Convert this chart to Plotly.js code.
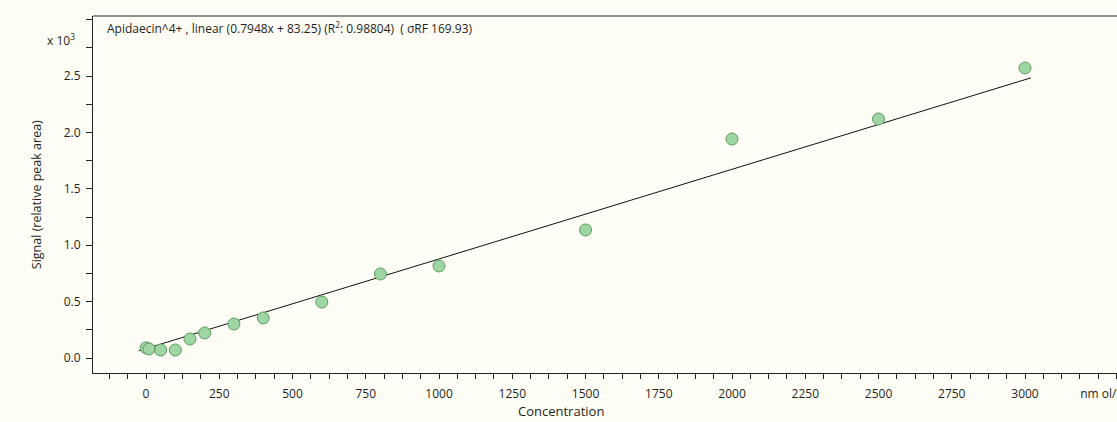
<!DOCTYPE html>
<html>
<head>
<meta charset="utf-8">
<script src="https://cdn.plot.ly/plotly-3.0.1.min.js"></script>
<style>html,body{margin:0;padding:0;background:#fefef6;}#chart{width:1117px;height:422px;}</style>
</head>
<body>
<div id="chart"></div>
<script>
// Data
const concentration = [0, 10, 50, 100, 150, 200, 300, 400, 600, 800, 1000, 1500, 2000, 2500, 3000];
const signal = [90, 80, 71, 71, 168, 222, 301, 355, 496, 745, 816, 1135, 1941, 2119, 2571];
const fitSlope = 0.7948;
const fitIntercept = 83.25;
const fitRangeX = [-25, 3020];
const xTickVals = [0, 250, 500, 750, 1000, 1250, 1500, 1750, 2000, 2250, 2500, 2750, 3000, 3250];
const xTickText = ['0', '250', '500', '750', '1000', '1250', '1500', '1750', '2000', '2250', '2500', '2750', '3000', 'nm ol/'];
const yTickVals = [0, 500, 1000, 1500, 2000, 2500, 3000];
const yTickText = ['0.0', '0.5', '1.0', '1.5', '2.0', '2.5', ' '];
const titleText = 'Apidaecin^4+ , linear (0.7948x + 83.25) (R<sup>2</sup>: 0.98804)  ( \u03c3RF 169.93)';

const fitY = fitRangeX.map(x => fitSlope * x + fitIntercept);
const font = "'Open Sans', 'DejaVu Sans', sans-serif";
const txt = '#1e1e1e';

const traces = [
  {x: fitRangeX, y: fitY, mode: 'lines', line: {color: '#111111', width: 1}, hoverinfo: 'skip', showlegend: false},
  {x: concentration, y: signal, mode: 'markers', showlegend: false,
   marker: {size: 12, color: '#9ed6a3', line: {color: '#5e9a63', width: 1}}}
];

const layout = {
  width: 1117, height: 422,
  margin: {l: 93, r: 0, t: 16, b: 49},
  paper_bgcolor: '#fefef6', plot_bgcolor: '#fefef6',
  font: {family: font, size: 12, color: txt},
  xaxis: {
    range: [-181, 3314], showgrid: false, zeroline: false,
    showline: true, linecolor: '#222222', linewidth: 1,
    ticks: 'outside', ticklen: 5, tickcolor: '#222222', tickwidth: 1,
    tickmode: 'array', tickvals: xTickVals, ticktext: xTickText,
    ticklabelstandoff: 5,
    tickfont: {family: font, size: 12, color: txt},
    minor: {dtick: 62.5, tick0: 0, ticks: 'outside', ticklen: 5, tickcolor: '#222222', showgrid: false}
  },
  yaxis: {
    range: [-133, 3032], showgrid: false, zeroline: false,
    showline: true, linecolor: '#222222', linewidth: 1,
    ticks: 'outside', ticklen: 6, tickcolor: '#222222', tickwidth: 1,
    tickmode: 'array', tickvals: yTickVals, ticktext: yTickText,
    ticklabelstandoff: 3,
    tickfont: {family: font, size: 12, color: txt},
    minor: {dtick: 250, tick0: 0, ticks: 'outside', ticklen: 6, tickcolor: '#222222', showgrid: false}
  },
  shapes: [
    {type: 'line', xref: 'paper', yref: 'paper', x0: 0, x1: 1, y0: 1, y1: 1, line: {color: '#222222', width: 1}}
  ],
  annotations: [
    {text: titleText, xref: 'paper', yref: 'paper', x: 0.0117, y: 0.966, xanchor: 'left', yanchor: 'middle',
     showarrow: false, font: {family: font, size: 12, color: txt}},
    {text: 'x 10<sup>3</sup>', xref: 'paper', yref: 'paper', x: -0.0155, y: 0.932, xanchor: 'right', yanchor: 'middle',
     showarrow: false, font: {family: font, size: 12, color: txt}},
    {text: 'Signal (relative peak area)', xref: 'paper', yref: 'paper', x: -0.055, y: 0.5, xanchor: 'center', yanchor: 'middle',
     textangle: -90, showarrow: false, font: {family: font, size: 12.5, color: txt}},
    {text: 'Concentration', xref: 'paper', yref: 'paper', x: 0.457, y: -0.106, xanchor: 'center', yanchor: 'middle',
     showarrow: false, font: {family: font, size: 13, color: txt}}
  ]
};

Plotly.newPlot('chart', traces, layout, {displayModeBar: false, staticPlot: true});
</script>
</body>
</html>
